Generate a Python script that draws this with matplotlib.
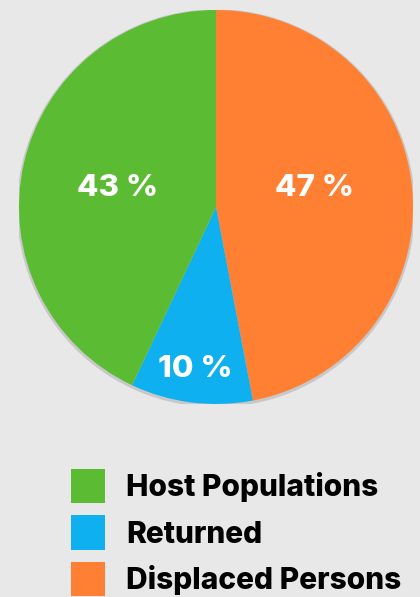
import numpy as np
import matplotlib
matplotlib.use("Agg")
import matplotlib.pyplot as plt

# slices in drawing order (clockwise from 12 o'clock)
labels = ["Displaced Persons", "Returned", "Host Populations"]
shares = [47, 10, 43]
colors = ["#ff8033", "#0fb0ef", "#5bbb33"]
legend_order = ["Host Populations", "Returned", "Displaced Persons"]

BG = "#e8e8e8"
W, H = 420, 597
FONT = ["Inter", "DejaVu Sans"]
plt.rcParams["font.family"] = FONT

fig = plt.figure(figsize=(W / 100, H / 100), dpi=100, facecolor=BG)
cx, cy, r = 216, 207, 197
ax = fig.add_axes([(cx - r) / W, (H - cy - r) / H, 2 * r / W, 2 * r / H])
ax.set_facecolor(BG)

# faint halo standing in for the drop shadow
ax.add_patch(plt.Circle((0, -0.006), 1.01, color="#c8c8c8", zorder=0, lw=0))

wedges, _, autotexts = ax.pie(
    shares, colors=colors, startangle=90, counterclock=False,
    autopct=lambda p: f"{p:.0f} %", pctdistance=0.52,
    wedgeprops={"linewidth": 0},
    textprops={"color": "white", "fontsize": 22.5, "fontweight": "heavy"})

# label placement: distance from centre and vertical nudge per slice
label_dist = [0.50, 0.83, 0.51]
label_dy = [0.05, 0.0, -0.015]
for t, w, d, dy in zip(autotexts, wedges, label_dist, label_dy):
    mid = np.deg2rad((w.theta1 + w.theta2) / 2)
    t.set_position((d * np.cos(mid), d * np.sin(mid) + dy))

ax.set_xlim(-1.0, 1.0)
ax.set_ylim(-1.0, 1.0)
ax.set_aspect("equal")
ax.axis("off")

handles = [wedges[labels.index(n)] for n in legend_order]
fig.legend(handles, legend_order, loc="upper left",
           bbox_to_anchor=(71 / W, 1 - 469 / H), frameon=False,
           prop={"family": FONT, "weight": "heavy", "size": 21.5},
           handlelength=1.13, handleheight=1.4, handletextpad=0.72,
           labelspacing=0.4, borderaxespad=0, borderpad=0)

fig.savefig("out.png", dpi=100, facecolor=BG)
